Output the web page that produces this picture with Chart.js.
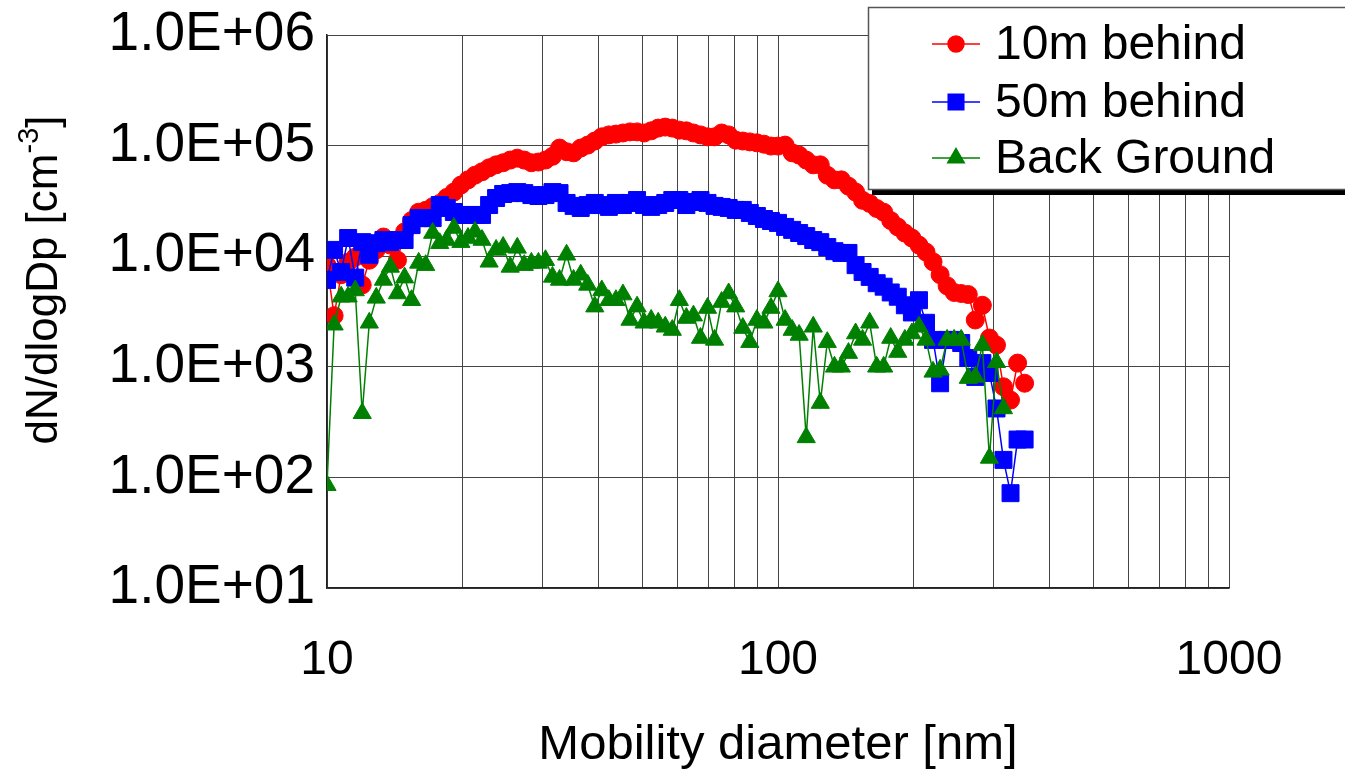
<!DOCTYPE html>
<html>
<head>
<meta charset="utf-8">
<script src="https://cdn.jsdelivr.net/npm/chart.js@4.4.0/dist/chart.umd.min.js"></script>
<style>
html,body{margin:0;padding:0;background:#fff;}
#wrap{width:1345px;height:770px;position:relative;}
</style>
</head>
<body>
<div id="wrap"><canvas id="sizeChart" width="1345" height="770"></canvas></div>
<script>
// SMPS channel diameters [nm]
const diameters = [
  10.00, 10.37, 10.75, 11.14, 11.55, 11.97, 12.41, 12.86, 13.34, 13.82,
  14.33, 14.86, 15.40, 15.97, 16.55, 17.15, 17.78, 18.43, 19.11, 19.81,
  20.54, 21.29, 22.07, 22.88, 23.71, 24.58, 25.48, 26.42, 27.38, 28.39,
  29.43, 30.51, 31.62, 32.78, 33.98, 35.22, 36.52, 37.85, 39.24, 40.67,
  42.17, 43.71, 45.31, 46.97, 48.70, 50.48, 52.33, 54.25, 56.23, 58.29,
  60.43, 62.64, 64.94, 67.32, 69.78, 72.33, 74.99, 77.73, 80.58, 83.54,
  86.60, 89.77, 93.06, 96.47, 100.0, 103.7, 107.5, 111.4, 115.5, 119.7,
  124.1, 128.6, 133.4, 138.2, 143.3, 148.6, 154.0, 159.7, 165.5, 171.5,
  177.8, 184.3, 191.1, 198.1, 205.4, 212.9, 220.7, 228.8, 237.1, 245.8,
  254.8, 264.2, 273.8, 283.9, 294.3, 305.1, 316.2, 327.8, 339.8, 352.2
];

// dN/dlogDp [cm-3]
const behind10m = [
  8300, 2900, 6800, 8800, 9800, 5500, 9200, 11400, 14900, 12600,
  9200, 16600, 21000, 25000, 26000, 28000, 30000, 34000, 38000, 44000,
  49000, 54000, 58000, 63000, 67000, 70000, 74000, 77000, 74000, 70000,
  71000, 74000, 80000, 95000, 88000, 86000, 95000, 101000, 110000, 120000,
  125000, 127000, 130000, 133000, 133000, 130000, 136000, 144000, 147000, 144000,
  138000, 136000, 130000, 125000, 120000, 120000, 130000, 125000, 112000, 110000,
  108000, 106000, 103000, 99000, 99000, 101000, 86000, 82000, 74000, 67000,
  67000, 54000, 49000, 49000, 43000, 38000, 32000, 30000, 27000, 25000,
  21000, 18400, 16200, 14600, 12600, 10900, 8900, 6800, 5400, 4700,
  4600, 4500, 2650, 3600, 1820, 1570, 660, 500, 1080, 710
];

const behind50m = [
  6100, 11400, 7200, 14600, 6400, 13400, 10300, 13100, 14000, 13400,
  14000, 14000, 19100, 22100, 22100, 22100, 29000, 27300, 25100, 23600,
  23600, 23600, 23600, 29000, 33600, 36500, 37200, 38000, 37200, 35700,
  35000, 35700, 38000, 37200, 30300, 28500, 27300, 29000, 30300, 29000,
  27900, 30300, 29000, 30300, 32200, 29000, 27900, 29000, 30300, 32200,
  32200, 29000, 30900, 32200, 30300, 28500, 27900, 27300, 26200, 26200,
  24600, 23100, 21700, 20800, 20000, 18400, 17300, 16200, 15200, 14000,
  13400, 12100, 11100, 10700, 10700, 8300, 7200, 6500, 5700, 5300,
  4700, 4300, 3600, 3100, 4000, 2500, 1750, 710, 1750, 1750,
  1640, 1200, 810, 1080, 880, 420, 144, 72, 220, 220
];

const backGround = [
  85, 2400, 4300, 4300, 4900, 380, 2500, 4200, 6100, 8000,
  4600, 6400, 4000, 8700, 8300, 16200, 13100, 14000, 18000, 13400,
  14600, 16600, 14000, 8900, 11400, 12100, 8000, 11900, 8300, 8700,
  8700, 9200, 6500, 6100, 10300, 6100, 6800, 5500, 3500, 4900,
  4000, 4000, 4500, 2650, 3500, 2500, 2650, 2500, 2300, 2150,
  4000, 2760, 2900, 1820, 3400, 1750, 3850, 4600, 3500, 2240,
  1670, 2650, 2500, 3400, 4800, 2650, 2150, 1940, 230, 2300,
  470, 1670, 1000, 1000, 1330, 2000, 1750, 2500, 1000, 1000,
  1820, 1360, 1750, 2000, 2300, 1750, 900, 940, 1750, 1750,
  1750, 790, 810, 1570, 150, 1100, 420
];

const seriesNames = ["10m behind", "50m behind", "Back Ground"];

const xGridTicks = [10, 20, 30, 40, 50, 60, 70, 80, 90, 100, 200, 300, 400, 500, 600, 700, 800, 900, 1000];
const xLabeledTicks = [10, 100, 1000];
const yTicks = [10, 100, 1000, 10000, 100000, 1000000];
const yTickLabels = ["1.0E+01", "1.0E+02", "1.0E+03", "1.0E+04", "1.0E+05", "1.0E+06"];

const FONT = "'Liberation Sans', Arial, sans-serif";

function toPoints(values){
    return values.map((v, i) => ({x: diameters[i], y: v}));
}

const styles = [
    {color: "#ff0000", pointStyle: "circle", radius: 9, order: 3},
    {color: "#0000ff", pointStyle: "rect", radius: 12, order: 2},
    {color: "#008000", pointStyle: "triangle", radius: 10.5, order: 1}
];

const seriesData = [behind10m, behind50m, backGround];

const datasets = seriesData.map((vals, k) => ({
    label: seriesNames[k],
    data: toPoints(vals),
    showLine: true,
    borderColor: styles[k].color,
    backgroundColor: styles[k].color,
    borderWidth: 1.5,
    pointStyle: styles[k].pointStyle,
    pointRadius: styles[k].radius,
    pointBorderWidth: 1,
    pointBorderColor: styles[k].color,
    pointBackgroundColor: styles[k].color,
    order: styles[k].order
}));

// y axis title with superscript and the boxed legend
const decorations = {
    id: "decorations",
    afterDraw(chart){
        const ctx = chart.ctx;
        ctx.save();

        // y title
        ctx.translate(45, 280);
        ctx.rotate(-Math.PI / 2);
        ctx.fillStyle = "#000";
        ctx.textBaseline = "middle";
        ctx.textAlign = "left";
        ctx.font = "44px " + FONT;
        const main = "dN/dlogDp [cm";
        const sup = "-3";
        const wMain = ctx.measureText(main).width;
        ctx.font = "29px " + FONT;
        const wSup = ctx.measureText(sup).width;
        ctx.font = "44px " + FONT;
        const wEnd = ctx.measureText("]").width;
        const total = wMain + wSup + wEnd;
        let x0 = -total / 2;
        ctx.fillText(main, x0, 0);
        ctx.font = "29px " + FONT;
        ctx.fillText(sup, x0 + wMain, -15);
        ctx.font = "44px " + FONT;
        ctx.fillText("]", x0 + wMain + wSup, 0);
        ctx.restore();

        // legend box
        ctx.save();
        ctx.fillStyle = "#000";
        ctx.fillRect(872, 189, 480, 6);
        ctx.fillStyle = "#fff";
        ctx.fillRect(868, 7, 480, 182);
        ctx.strokeStyle = "#555";
        ctx.lineWidth = 1.5;
        ctx.strokeRect(868.5, 7.5, 480, 182);

        const rows = [44, 102, 158];
        ctx.font = "48px " + FONT;
        ctx.textBaseline = "middle";
        ctx.textAlign = "left";
        rows.forEach((ry, k) => {
            ctx.strokeStyle = styles[k].color;
            ctx.fillStyle = styles[k].color;
            ctx.lineWidth = 1.5;
            ctx.beginPath();
            ctx.moveTo(932, ry);
            ctx.lineTo(980, ry);
            ctx.stroke();
            Chart.helpers.drawPoint(ctx, {
                pointStyle: styles[k].pointStyle,
                radius: styles[k].radius - 1,
                rotation: 0,
                borderWidth: 1
            }, 956, ry);
            ctx.fillStyle = "#000";
            ctx.fillText(seriesNames[k], 995, ry + 2);
        });
        ctx.restore();
    }
};

new Chart(document.getElementById("sizeChart"), {
    type: "scatter",
    data: {datasets: datasets},
    plugins: [decorations],
    options: {
        responsive: false,
        animation: false,
        events: [],
        layout: {padding: {left: 0, top: 35, right: 116, bottom: 0}},
        plugins: {
            legend: {display: false},
            tooltip: {enabled: false}
        },
        scales: {
            x: {
                type: "logarithmic",
                position: "bottom",
                min: 10,
                max: 1000,
                afterBuildTicks(scale){
                    scale.ticks = xGridTicks.map(v => ({value: v}));
                },
                afterFit(scale){
                    scale.height = 182;
                },
                ticks: {
                    autoSkip: false,
                    maxRotation: 0,
                    padding: 44,
                    color: "#000",
                    font: {family: FONT, size: 48},
                    callback(value){
                        return xLabeledTicks.includes(value) ? String(value) : "";
                    }
                },
                grid: {color: "#444", lineWidth: 1, drawTicks: false},
                border: {display: true, color: "#222", width: 1.5},
                title: {
                    display: true,
                    text: "Mobility diameter [nm]",
                    color: "#000",
                    font: {family: FONT, size: 49, lineHeight: 1.0},
                    padding: {top: 0, bottom: 0}
                }
            },
            y: {
                type: "logarithmic",
                position: "left",
                min: 10,
                max: 1000000,
                afterBuildTicks(scale){
                    scale.ticks = yTicks.map(v => ({value: v}));
                },
                afterFit(scale){
                    scale.width = 327;
                },
                ticks: {
                    autoSkip: false,
                    padding: 12,
                    color: "#000",
                    font: {family: FONT, size: 55, lineHeight: 0.8},
                    callback(value, index){
                        return yTickLabels[index];
                    }
                },
                grid: {color: "#444", lineWidth: 1, drawTicks: false},
                border: {display: true, color: "#222", width: 1.5}
            }
        }
    }
});
</script>
</body>
</html>
